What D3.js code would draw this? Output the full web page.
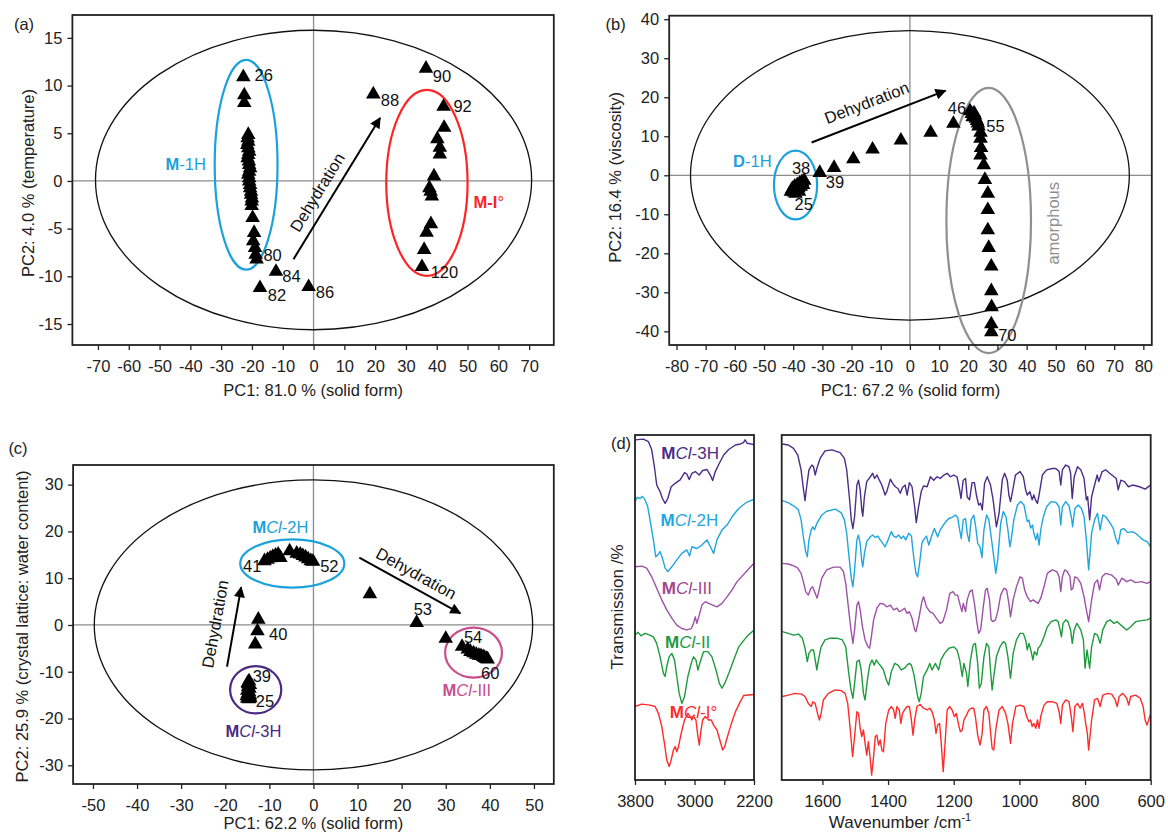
<!DOCTYPE html>
<html>
<head>
<meta charset="utf-8">
<script src="https://cdn.jsdelivr.net/npm/d3@7"></script>
<style>
  body { margin: 0; background: #fff; }
  svg { display: block; }
</style>
</head>
<body>
<svg width="1168" height="833"></svg>
<script>
const FONT = "'Liberation Sans', Arial, sans-serif";

// ---------- panel (a) : M ----------
const aTicksX = [-70, -60, -50, -40, -30, -20, -10, 0, 10, 20, 30, 40, 50, 60, 70];
const aTicksY = [-15, -10, -5, 0, 5, 10, 15];
const aScores = [
  [-22.8, 11.0], [-22.5, 9.1], [-22.5, 8.3],
  [-21.2, 4.95], [-21.4, 4.6], [-21.2, 4.25], [-21.5, 3.9], [-21.2, 3.55], [-20.9, 3.2],
  [-21.2, 2.86], [-21.4, 2.5], [-21.0, 2.16], [-20.9, 1.8], [-20.6, 1.47], [-20.9, 1.1],
  [-21.2, 0.77], [-20.9, 0.4], [-20.9, 0.07], [-20.6, -0.3], [-20.6, -0.63], [-20.3, -1.0],
  [-20.3, -1.32], [-20.0, -1.7], [-20.1, -2.02], [-20.1, -2.5], [-19.8, -3.76], [-19.3, -5.33],
  [-19.6, -6.2], [-19.0, -6.9], [-18.8, -7.6], [-18.5, -8.1],
  [-17.4, -11.1], [-12.2, -9.4], [-1.6, -11.0], [19.4, 9.2],
  [36.5, 11.9], [42.2, 7.9], [42.4, 5.7], [40.2, 4.5], [41.0, 3.6], [41.0, 2.9], [39.1, 0.6],
  [37.6, -0.63], [38.0, -1.0], [38.4, -1.5], [38.1, -4.4], [36.7, -5.3], [35.9, -7.1], [35.2, -8.9]
];
const aNumbers = [
  ["26", -16.2, 11.1], ["80", -13.3, -7.8], ["84", -7.2, -10.0], ["82", -11.9, -12.0],
  ["86", 3.7, -11.7], ["88", 24.8, 8.5], ["90", 41.7, 11.0], ["92", 48.4, 7.8], ["120", 42.5, -9.6]
];

// ---------- panel (b) : D ----------
const bTicksX = [-80, -70, -60, -50, -40, -30, -20, -10, 0, 10, 20, 30, 40, 50, 60, 70, 80];
const bTicksY = [-40, -30, -20, -10, 0, 10, 20, 30, 40];
const bScores = [
  [-40.8, -3.9], [-40.3, -3.2], [-39.8, -4.1], [-39.5, -2.6], [-39.0, -3.5], [-38.6, -2.2],
  [-38.2, -3.0], [-37.8, -1.8], [-37.4, -2.6], [-37.0, -1.4], [-36.6, -2.2], [-36.2, -1.1],
  [-39.2, -4.4], [-38.0, -3.9],
  [-30.9, 0.9], [-26.0, 2.2], [-19.4, 4.4], [-12.8, 6.9], [-3.1, 9.2], [7.1, 11.2], [14.9, 13.5],
  [20.6, 16.7], [21.2, 16.0], [22.0, 16.2], [21.5, 15.2], [22.3, 15.6], [22.6, 14.8],
  [23.0, 14.2], [23.3, 13.6], [23.5, 12.8],
  [24.2, 11.2], [24.2, 9.7], [24.4, 7.3], [24.2, 5.4], [25.3, 2.9], [25.7, -0.9], [26.7, -4.4],
  [26.7, -8.6], [26.7, -13.8], [27.0, -18.3], [27.9, -23.1], [27.9, -29.4], [28.0, -33.5],
  [27.9, -37.9], [27.9, -39.9]
];
const bNumbers = [
  ["46", 16.1, 17.2], ["55", 29.3, 12.6], ["70", 33.4, -41.1],
  ["38", -37.3, 1.8], ["25", -36.4, -7.3], ["39", -25.7, -1.8]
];

// ---------- panel (c) : MCl ----------
const cTicksX = [-50, -40, -30, -20, -10, 0, 10, 20, 30, 40, 50];
const cTicksY = [-30, -20, -10, 0, 10, 20, 30];
const cScores = [
  [-14.6, -11.8], [-14.9, -12.2], [-14.4, -12.6], [-14.8, -13.0], [-14.5, -13.4], [-15.0, -13.8],
  [-14.6, -14.1], [-14.9, -14.5], [-14.4, -14.8], [-15.1, -15.0], [-14.7, -15.3], [-14.3, -15.4],
  [-15.0, -15.5], [-14.6, -15.6], [-14.8, -12.4],
  [-12.5, 1.4], [-12.7, -1.1], [-13.2, -3.9],
  [-11.1, 13.9], [-10.4, 14.2], [-9.8, 14.5], [-9.2, 14.8], [-8.6, 15.1], [-8.0, 15.3],
  [-7.5, 14.6], [-5.4, 16.0], [-3.8, 15.5], [-3.0, 15.3], [-2.4, 15.0], [-1.8, 14.7],
  [-1.2, 14.3], [-0.6, 13.9], [-0.1, 13.8],
  [12.8, 6.8], [23.4, 0.7], [30.0, -2.7],
  [33.7, -4.4], [35.0, -5.0], [35.6, -5.5], [36.3, -5.8], [36.9, -6.1], [37.5, -6.3],
  [38.0, -6.4], [38.5, -6.6], [38.8, -6.8], [39.2, -7.0], [39.5, -7.1]
];
const cNumbers = [
  ["41", -13.9, 12.5], ["52", 3.6, 12.5], ["40", -8.0, -2.0], ["53", 24.8, 3.4],
  ["54", 36.2, -2.7], ["60", 40.1, -10.3], ["39", -11.7, -11.0], ["25", -11.0, -16.4]
];

// ---------- panel (d) : IR spectra, [wavenumber, offset transmission] ----------
const hiTicks = [3800, 3400, 3000, 2600, 2200];
const hiLabels = [3800, 3000, 2200];
const loTicks = [1600, 1400, 1200, 1000, 800, 600];

const s3H_hi = [[3800,98.6],[3688,98.8],[3620,98.1],[3575,95.7],[3539,90.8],[3508,85.5],[3463,83.6],[3431,81.6],[3395,80.2],[3359,81.6],[3314,85.0],[3260,86.0],[3193,87.0],[3134,89.1],[3103,88.7],[3071,87.1],[3035,88.9],[2990,89.4],[2936,88.4],[2891,89.7],[2833,90.0],[2788,88.4],[2756,86.8],[2720,89.4],[2666,91.8],[2608,94.2],[2540,95.8],[2450,97.1],[2383,97.4],[2342,97.8],[2320,98.6],[2290,97.6],[2200,97.2]];
const s2H_hi = [[3800,80.7],[3770,81.9],[3733,81.6],[3700,82.2],[3665,81.2],[3629,79.2],[3598,75.4],[3553,69.6],[3521,64.7],[3494,65.2],[3463,66.2],[3431,64.3],[3395,61.4],[3359,60.4],[3305,61.8],[3238,63.8],[3170,65.7],[3103,66.7],[3067,64.9],[3035,67.6],[2968,67.1],[2900,68.1],[2833,69.6],[2774,67.1],[2743,65.7],[2698,69.6],[2630,72.5],[2563,73.9],[2495,76.3],[2405,78.7],[2300,80.5],[2200,81.4]];
const sIII_hi = [[3800,61.8],[3710,62.0],[3643,61.4],[3575,58.9],[3508,55.6],[3440,52.2],[3373,49.3],[3305,46.9],[3238,44.9],[3170,43.9],[3103,43.5],[3044,43.9],[3013,45.4],[2990,47.3],[2968,45.4],[2936,47.8],[2900,50.7],[2855,51.7],[2810,51.2],[2756,50.7],[2698,50.2],[2630,51.2],[2563,53.1],[2495,55.1],[2428,57.5],[2300,60.5],[2200,62.8]];
const sII_hi = [[3800,42.0],[3760,42.8],[3720,41.8],[3665,42.5],[3600,42.0],[3553,41.5],[3508,39.6],[3463,35.7],[3418,30.9],[3395,30.0],[3373,32.9],[3341,35.7],[3305,36.7],[3269,34.8],[3238,30.0],[3206,25.1],[3170,22.2],[3134,24.2],[3089,30.0],[3044,33.8],[3013,35.7],[2981,34.8],[2954,31.9],[2923,34.3],[2878,37.2],[2819,37.2],[2765,35.7],[2711,31.9],[2666,28.0],[2630,26.6],[2594,28.0],[2540,30.9],[2473,34.8],[2405,38.6],[2300,41.5],[2200,43.5]];
const sI_hi = [[3800,21.3],[3710,22.0],[3598,21.7],[3530,21.3],[3485,19.3],[3440,15.5],[3404,10.6],[3373,5.8],[3341,3.9],[3314,5.8],[3283,8.7],[3260,9.7],[3238,8.2],[3215,9.7],[3179,13.5],[3134,17.4],[3089,19.3],[3058,18.4],[3035,17.4],[3013,18.4],[2981,17.4],[2954,12.6],[2936,10.1],[2918,13.5],[2891,17.4],[2855,18.4],[2810,17.4],[2774,17.4],[2743,15.9],[2698,14.5],[2653,11.1],[2621,8.7],[2594,9.7],[2563,12.1],[2504,16.4],[2450,19.8],[2396,22.2],[2340,24.5],[2200,24.8]];

const s3H_lo = [[1722,97.4],[1704,97.1],[1688,96.1],[1675,94.2],[1665,89.9],[1658,84.5],[1653,81.0],[1648,85.0],[1641,89.9],[1632,91.3],[1627,90.8],[1622,88.4],[1617,90.3],[1607,93.2],[1592,95.4],[1571,95.7],[1546,94.9],[1533,93.2],[1526,89.9],[1518,82.1],[1512,75.4],[1507,72.9],[1502,76.3],[1495,85.5],[1490,86.9],[1485,84.1],[1480,78.3],[1477,76.5],[1472,82.1],[1465,86.5],[1454,87.9],[1447,88.9],[1441,87.4],[1434,88.4],[1427,87.0],[1419,85.5],[1409,82.6],[1404,83.6],[1393,87.2],[1386,86.0],[1378,85.0],[1370,84.5],[1363,83.1],[1356,84.8],[1348,85.5],[1342,82.6],[1335,86.2],[1327,85.0],[1319,79.2],[1314,74.6],[1307,79.2],[1299,83.6],[1292,85.2],[1281,85.0],[1271,87.9],[1261,86.9],[1251,87.9],[1241,87.4],[1230,88.4],[1220,88.9],[1210,87.9],[1200,88.4],[1190,87.9],[1182,84.1],[1178,81.6],[1171,86.9],[1164,87.4],[1159,82.1],[1152,81.2],[1144,86.2],[1137,86.2],[1131,82.6],[1124,79.7],[1118,80.2],[1113,78.3],[1106,86.0],[1098,87.9],[1088,85.5],[1080,81.2],[1070,73.4],[1062,77.3],[1052,87.0],[1045,88.9],[1037,86.9],[1032,82.6],[1027,80.7],[1022,83.1],[1012,88.4],[998,89.4],[988,87.9],[981,84.1],[976,82.6],[968,83.6],[961,81.2],[956,82.6],[951,81.2],[945,80.2],[940,82.6],[930,88.4],[917,89.9],[900,90.3],[889,90.3],[879,89.4],[874,85.5],[869,89.9],[859,91.3],[849,90.8],[844,88.9],[839,81.6],[833,87.9],[823,90.8],[813,89.9],[803,87.4],[796,81.2],[792,82.1],[786,75.4],[780,82.1],[771,85.5],[763,88.4],[758,86.5],[748,89.4],[737,89.9],[725,88.9],[705,87.4],[699,84.1],[691,86.9],[680,86.5],[668,85.0],[655,85.5],[634,85.0],[617,84.3],[600,85.5]];
const s2H_lo = [[1722,81.0],[1704,80.4],[1692,79.7],[1681,79.0],[1673,78.3],[1665,75.4],[1658,70.5],[1651,66.2],[1646,64.7],[1641,69.6],[1634,72.5],[1629,73.4],[1624,72.5],[1617,74.4],[1602,76.8],[1587,77.9],[1561,78.5],[1543,77.5],[1533,75.4],[1526,71.5],[1518,63.8],[1512,58.5],[1507,56.0],[1502,60.9],[1495,69.6],[1490,71.0],[1485,68.6],[1480,63.3],[1477,61.8],[1472,65.7],[1465,69.1],[1454,70.5],[1447,71.0],[1439,70.3],[1431,70.7],[1424,69.6],[1416,68.6],[1409,67.6],[1400,69.6],[1390,72.0],[1383,70.7],[1376,70.3],[1368,71.0],[1360,70.0],[1353,70.7],[1346,69.6],[1337,71.5],[1329,70.7],[1322,64.7],[1315,59.9],[1310,58.9],[1304,62.8],[1297,68.6],[1292,69.6],[1283,70.7],[1276,68.1],[1268,70.5],[1259,72.9],[1249,70.5],[1241,72.5],[1228,74.4],[1215,75.8],[1205,76.1],[1195,76.8],[1188,76.1],[1182,72.5],[1177,70.0],[1171,75.4],[1164,75.8],[1159,71.5],[1153,69.1],[1147,75.4],[1139,76.8],[1133,73.4],[1127,68.6],[1120,67.6],[1114,64.5],[1108,72.5],[1100,76.8],[1093,75.4],[1086,70.5],[1078,64.7],[1072,59.9],[1066,63.8],[1057,74.4],[1049,77.8],[1041,76.3],[1035,72.5],[1029,67.6],[1025,69.6],[1017,75.4],[1006,79.7],[996,80.7],[986,79.7],[980,76.8],[976,74.9],[971,75.4],[966,73.0],[960,73.9],[956,71.5],[950,69.6],[945,71.5],[940,68.1],[935,72.5],[927,76.3],[917,79.2],[903,80.7],[889,80.5],[879,79.2],[874,73.9],[869,79.2],[859,80.7],[849,79.5],[841,75.8],[838,73.4],[831,78.7],[821,79.7],[811,78.7],[803,76.3],[796,69.6],[789,60.9],[780,71.5],[771,75.4],[762,77.3],[754,72.5],[746,76.8],[737,76.3],[723,74.4],[714,72.9],[705,69.6],[699,68.4],[691,72.5],[682,72.9],[670,71.7],[657,72.0],[646,71.5],[634,70.5],[623,69.6],[611,69.1],[600,67.6]];
const sIII_lo = [[1722,62.8],[1704,62.6],[1685,62.0],[1675,61.4],[1665,59.9],[1658,57.5],[1651,54.6],[1643,53.6],[1635,55.6],[1630,56.0],[1624,54.6],[1616,52.7],[1610,55.1],[1602,58.5],[1587,60.9],[1566,61.7],[1546,61.7],[1536,60.4],[1529,57.0],[1521,50.2],[1513,43.5],[1507,39.6],[1502,43.5],[1495,50.7],[1490,51.7],[1485,49.3],[1478,44.4],[1470,40.6],[1461,38.6],[1456,38.2],[1451,41.5],[1444,46.4],[1434,49.8],[1424,51.2],[1414,51.0],[1404,50.2],[1393,50.7],[1383,49.3],[1373,49.8],[1366,48.8],[1358,49.1],[1350,49.8],[1342,48.3],[1335,48.8],[1327,46.9],[1319,43.5],[1315,43.0],[1307,46.4],[1297,51.7],[1292,53.1],[1283,50.2],[1273,48.8],[1263,48.3],[1253,46.9],[1241,45.4],[1233,45.9],[1222,49.3],[1212,54.1],[1202,54.6],[1195,53.6],[1188,53.6],[1182,51.2],[1175,48.8],[1171,51.2],[1164,48.8],[1159,52.2],[1151,54.6],[1144,55.1],[1137,51.2],[1129,45.4],[1124,42.5],[1118,43.5],[1110,50.2],[1103,55.1],[1098,55.6],[1091,52.2],[1086,46.4],[1080,45.9],[1073,46.4],[1066,48.8],[1057,53.6],[1047,55.6],[1039,55.1],[1032,51.2],[1027,47.3],[1019,52.2],[1009,56.0],[998,58.9],[991,58.5],[984,55.1],[976,53.1],[966,51.7],[958,52.2],[951,51.7],[943,51.2],[935,52.7],[925,56.0],[915,59.9],[900,60.9],[886,60.4],[879,58.9],[874,54.6],[869,58.9],[862,60.9],[854,60.4],[846,58.9],[842,55.1],[837,55.6],[831,58.9],[823,58.5],[813,57.0],[803,53.1],[796,49.3],[789,45.9],[780,52.2],[771,57.0],[762,58.0],[756,55.1],[748,58.9],[737,59.9],[719,59.4],[705,58.2],[699,56.5],[688,58.5],[673,57.5],[661,58.0],[646,57.2],[628,57.5],[611,57.0],[600,57.5]];
const sII_lo = [[1722,43.0],[1704,42.5],[1688,42.0],[1673,42.3],[1661,41.1],[1653,38.2],[1646,34.3],[1641,36.7],[1634,37.7],[1627,37.7],[1622,34.8],[1617,31.9],[1612,34.8],[1604,38.6],[1592,40.6],[1576,41.1],[1556,41.1],[1539,40.6],[1529,38.6],[1521,31.9],[1513,26.1],[1507,23.7],[1502,28.0],[1495,34.3],[1488,34.8],[1482,31.9],[1475,25.1],[1470,23.2],[1463,29.0],[1456,33.3],[1449,34.8],[1442,33.3],[1436,34.8],[1429,33.8],[1421,32.9],[1414,31.9],[1405,29.0],[1398,27.5],[1390,31.4],[1380,33.8],[1370,33.3],[1360,31.9],[1350,32.4],[1342,33.3],[1335,33.8],[1329,33.3],[1322,30.9],[1315,27.1],[1310,24.2],[1305,22.7],[1299,25.1],[1292,30.0],[1281,31.9],[1273,33.8],[1266,31.9],[1256,33.8],[1246,31.9],[1239,34.8],[1228,36.7],[1215,38.2],[1200,38.6],[1190,37.7],[1182,34.8],[1174,30.0],[1169,33.8],[1161,30.9],[1157,27.1],[1149,34.8],[1141,39.1],[1134,39.6],[1127,33.8],[1122,26.6],[1116,28.0],[1108,35.7],[1100,39.6],[1093,38.6],[1088,31.9],[1083,26.1],[1078,30.0],[1070,35.7],[1059,38.6],[1049,40.1],[1042,39.6],[1035,35.7],[1027,29.5],[1019,36.7],[1009,40.6],[998,42.5],[988,42.5],[981,40.6],[976,37.7],[971,39.6],[964,37.2],[959,34.8],[954,37.2],[947,36.2],[943,38.2],[935,39.1],[925,41.5],[915,44.4],[903,45.9],[889,46.4],[882,45.9],[876,43.5],[872,41.5],[867,45.4],[859,46.4],[852,45.9],[844,43.5],[839,39.6],[833,43.5],[825,45.4],[813,43.5],[805,40.6],[800,32.4],[794,37.7],[786,32.4],[780,38.6],[771,42.5],[762,42.0],[754,39.6],[746,43.5],[734,45.9],[723,46.4],[712,45.4],[702,45.9],[691,44.9],[673,43.5],[661,44.4],[646,45.9],[628,46.2],[611,46.4],[600,46.9]];
const sI_lo = [[1722,24.2],[1704,24.6],[1683,25.1],[1663,24.9],[1653,24.2],[1643,22.2],[1634,21.3],[1629,22.7],[1622,22.2],[1615,19.3],[1609,17.4],[1604,19.3],[1597,23.2],[1582,25.1],[1561,26.1],[1543,25.9],[1531,25.1],[1523,22.2],[1515,14.5],[1508,6.8],[1502,12.6],[1495,19.8],[1490,19.3],[1485,15.0],[1480,12.6],[1475,14.5],[1470,10.6],[1465,7.2],[1460,11.1],[1454,5.8],[1450,1.4],[1444,6.8],[1439,12.6],[1434,13.0],[1429,10.1],[1424,11.6],[1419,8.7],[1414,8.2],[1407,16.4],[1398,20.3],[1390,21.3],[1383,20.3],[1378,17.9],[1373,21.3],[1366,20.3],[1361,16.4],[1356,19.3],[1350,20.3],[1342,21.3],[1335,21.3],[1329,17.4],[1324,13.0],[1319,17.4],[1312,21.3],[1302,21.9],[1292,20.8],[1281,20.3],[1273,20.8],[1266,19.8],[1259,17.4],[1254,13.5],[1249,15.9],[1243,16.4],[1238,10.6],[1232,2.4],[1227,9.7],[1220,20.3],[1212,21.3],[1205,20.3],[1198,18.4],[1192,19.3],[1185,15.9],[1180,14.0],[1174,14.5],[1169,17.4],[1161,18.8],[1154,20.3],[1147,20.8],[1139,20.8],[1134,18.4],[1127,13.0],[1120,10.1],[1114,13.0],[1108,20.3],[1100,21.3],[1093,19.3],[1088,14.0],[1083,9.2],[1078,8.7],[1072,14.5],[1062,20.3],[1052,21.3],[1042,19.3],[1035,16.4],[1027,10.6],[1021,16.4],[1011,21.3],[998,21.7],[986,21.3],[978,18.4],[971,16.9],[966,17.4],[961,15.5],[956,16.4],[950,15.0],[945,17.4],[940,15.0],[935,18.4],[925,21.7],[915,22.7],[900,22.7],[886,22.2],[879,19.8],[874,16.4],[869,21.7],[859,23.2],[849,22.7],[842,18.4],[837,14.0],[831,21.3],[823,22.2],[815,20.8],[808,22.2],[803,19.8],[798,16.4],[793,13.5],[789,8.7],[780,17.4],[771,23.2],[762,23.7],[754,21.3],[746,24.6],[731,25.1],[719,24.9],[708,23.2],[702,21.3],[696,24.2],[685,25.1],[673,23.7],[667,21.7],[661,24.2],[646,24.6],[632,23.7],[623,21.3],[617,17.4],[611,15.9],[605,17.8],[600,19.3]];

// ---------------------------------------------------------------
const svg = d3.select("svg").attr("font-family", FONT);

svg.append("defs").append("marker")
  .attr("id", "head")
  .attr("viewBox", "0 0 10 10")
  .attr("refX", 9).attr("refY", 5)
  .attr("markerUnits", "userSpaceOnUse")
  .attr("markerWidth", 13).attr("markerHeight", 11)
  .attr("orient", "auto")
  .append("path").attr("d", "M0,0L10,5L0,10z").attr("fill", "#000");

// text made of runs: [text, "b" | "i" | ""]
function runs(sel, parts) {
  parts.forEach(([t, s]) => {
    sel.append("tspan").text(t)
      .attr("font-weight", s === "b" ? "bold" : null)
      .attr("font-style", s === "i" ? "italic" : null);
  });
  return sel;
}

function pcaPanel(o) {
  const g = svg.append("g");
  const x = d3.scaleLinear().domain(o.xDomain).range([o.left, o.right]);
  const y = d3.scaleLinear().domain(o.yDomain).range([o.bottom, o.top]);

  // zero lines
  g.append("line").attr("x1", x(0)).attr("x2", x(0)).attr("y1", o.top).attr("y2", o.bottom)
    .attr("stroke", "#8c8c8c").attr("stroke-width", 1.3);
  g.append("line").attr("x1", o.left).attr("x2", o.right).attr("y1", y(0)).attr("y2", y(0))
    .attr("stroke", "#8c8c8c").attr("stroke-width", 1.3);

  // ellipses: Hotelling T2 + group rings
  const ell = (e, color, w) => g.append("ellipse")
    .attr("cx", x(e[0])).attr("cy", y(e[1]))
    .attr("rx", x(e[0] + e[2]) - x(e[0])).attr("ry", y(e[1]) - y(e[1] + e[3]))
    .attr("fill", "none").attr("stroke", color).attr("stroke-width", w);
  ell(o.ellipse, "#111", 1.3);
  o.rings.forEach(r => ell(r.e, r.color, 2.2));

  // axes
  const ax = g.append("g").attr("transform", `translate(0,${o.bottom})`)
    .call(d3.axisBottom(x).tickValues(o.xTicks).tickFormat(d => d).tickSize(5).tickPadding(10));
  const ay = g.append("g").attr("transform", `translate(${o.left},0)`)
    .call(d3.axisLeft(y).tickValues(o.yTicks).tickFormat(d => d).tickSize(5).tickPadding(5));
  [ax, ay].forEach(a => {
    a.attr("font-size", 16.5).attr("font-family", FONT);
    a.select(".domain").remove();
    a.selectAll("line").attr("stroke", "#222").attr("stroke-width", 1.3);
    a.selectAll("text").attr("fill", "#222");
  });

  g.append("rect").attr("x", o.left).attr("y", o.top)
    .attr("width", o.right - o.left).attr("height", o.bottom - o.top)
    .attr("fill", "none").attr("stroke", "#222").attr("stroke-width", 1.8);

  // arrows
  o.arrows.forEach(a => {
    g.append("line").attr("x1", x(a.from[0])).attr("y1", y(a.from[1]))
      .attr("x2", x(a.to[0])).attr("y2", y(a.to[1]))
      .attr("stroke", "#000").attr("stroke-width", 2).attr("marker-end", "url(#head)");
    const ang = Math.atan2(y(a.to[1]) - y(a.from[1]), x(a.to[0]) - x(a.from[0])) * 180 / Math.PI;
    g.append("text").attr("transform", `translate(${x(a.text[0])},${y(a.text[1])}) rotate(${ang})`)
      .attr("text-anchor", "middle").attr("dy", "0.35em").attr("font-size", 16.5).attr("fill", "#111")
      .text("Dehydration");
  });

  // scores
  g.selectAll("path.pt").data(o.points).join("path").attr("class", "pt")
    .attr("d", d3.symbol(d3.symbolTriangle, 92))
    .attr("transform", d => `translate(${x(d[0])},${y(d[1]) + 1})`)
    .attr("fill", "#000");

  g.selectAll("text.num").data(o.numbers).join("text").attr("class", "num")
    .attr("x", d => x(d[1])).attr("y", d => y(d[2])).attr("dy", "0.35em")
    .attr("text-anchor", "middle").attr("font-size", 16.5).attr("fill", "#111")
    .text(d => d[0]);

  o.groups.forEach(gr => {
    const t = g.append("text").attr("x", x(gr.at[0])).attr("y", y(gr.at[1])).attr("dy", "0.35em")
      .attr("text-anchor", "middle").attr("font-size", 16.5).attr("fill", gr.color);
    if (gr.rotate) t.attr("transform", `rotate(${gr.rotate},${x(gr.at[0])},${y(gr.at[1])})`);
    runs(t, gr.parts);
  });

  // titles
  g.append("text").attr("x", (o.left + o.right) / 2).attr("y", o.xTitleY)
    .attr("text-anchor", "middle").attr("font-size", 16.5).attr("fill", "#222").text(o.xTitle);
  g.append("text").attr("transform", `translate(${o.yTitleX},${(o.top + o.bottom) / 2 + o.yTitleShift}) rotate(-90)`)
    .attr("text-anchor", "middle").attr("font-size", 16.5).attr("fill", "#222").text(o.yTitle);
  g.append("text").attr("x", o.tag[1]).attr("y", o.tag[2]).attr("dy", "0.35em")
    .attr("text-anchor", "middle").attr("font-size", 16.5).attr("fill", "#222").text(o.tag[0]);
}

pcaPanel({
  left: 72.4, right: 553.8, top: 15, bottom: 345,
  xDomain: [-78.3, 78.0], yDomain: [-17.2, 17.4],
  xTicks: aTicksX, yTicks: aTicksY,
  ellipse: [0, 0.1, 70.8, 15.7],
  rings: [{ e: [-21.9, 1.7, 10.2, 11.0], color: "#1ba1dc" }, { e: [36.8, -0.2, 13.2, 9.75], color: "#ff2424" }],
  points: aScores, numbers: aNumbers,
  arrows: [{ from: [-6.5, -8.2], to: [21.6, 6.6], text: [1.2, -1.2] }],
  groups: [
    { at: [-41.5, 1.8], color: "#1ba1dc", parts: [["M", "b"], ["-1H", ""]] },
    { at: [56.9, -2.2], color: "#ff2424", parts: [["M-I", "b"], ["°", ""]] }
  ],
  xTitle: "PC1: 81.0 % (solid form)", xTitleY: 396,
  yTitle: "PC2: 4.0 % (temperature)", yTitleX: 34, yTitleShift: 3,
  tag: ["(a)", 24, 24]
});

pcaPanel({
  left: 669.2, right: 1151.8, top: 15.7, bottom: 345,
  xDomain: [-82.5, 82.9], yDomain: [-43.5, 40.9],
  xTicks: bTicksX, yTicks: bTicksY,
  ellipse: [0, 0, 75.2, 37.1],
  rings: [{ e: [-39.2, -2.5, 7.4, 8.8], color: "#1ba1dc" }, { e: [27, -11.6, 14.5, 34], color: "#8f8f8f" }],
  points: bScores, numbers: bNumbers,
  arrows: [{ from: [-33.7, 8.4], to: [12.2, 21.7], text: [-14.8, 18.6] }],
  groups: [
    { at: [-54, 3.5], color: "#1ba1dc", parts: [["D", "b"], ["-1H", ""]] },
    { at: [49.2, -12.3], color: "#8f8f8f", rotate: -90, parts: [["amorphous", ""]] }
  ],
  xTitle: "PC1: 67.2 % (solid form)", xTitleY: 396,
  yTitle: "PC2: 16.4 % (viscosity)", yTitleX: 621, yTitleShift: -3,
  tag: ["(b)", 615.6, 24]
});

pcaPanel({
  left: 73.1, right: 553.8, top: 465, bottom: 784,
  xDomain: [-54.5, 54.5], yDomain: [-34, 34.2],
  xTicks: cTicksX, yTicks: cTicksY,
  ellipse: [0, 0, 49.7, 31],
  rings: [
    { e: [-4.8, 13.15, 11.8, 5.15], color: "#1ba1dc" },
    { e: [-13.1, -13.85, 5.8, 5.05], color: "#4a2a84" },
    { e: [36.3, -5.9, 6.45, 5.35], color: "#c84f8b" }
  ],
  points: cScores, numbers: cNumbers,
  arrows: [
    { from: [-19.6, -8.9], to: [-16.4, 8.05], text: [-22.3, 0.2] },
    { from: [10.4, 14.4], to: [33.3, 2.5], text: [23.3, 11.0] }
  ],
  groups: [
    { at: [-7.5, 20.8], color: "#1ba1dc", parts: [["M", "b"], ["Cl", "i"], ["-2H", ""]] },
    { at: [-13.6, -22.7], color: "#4a2a84", parts: [["M", "b"], ["Cl", "i"], ["-3H", ""]] },
    { at: [34.8, -13.9], color: "#c84f8b", parts: [["M", "b"], ["Cl", "i"], ["-III", ""]] }
  ],
  xTitle: "PC1: 62.2 % (solid form)", xTitleY: 829,
  yTitle: "PC2: 25.9 % (crystal lattice: water content)", yTitleX: 28, yTitleShift: 2,
  tag: ["(c)", 18, 448]
});

// ---------- panel (d) ----------
const dTop = 435, dBottom = 780;
const yT = d3.scaleLinear().domain([0, 100]).range([dBottom, dTop]);
const xHi = d3.scaleLinear().domain([3800, 2200]).range([635, 754]);
const xLo = d3.scaleLinear().domain([1724, 600]).range([781.7, 1150.7]);

const spectra = [
  { hi: s3H_hi, lo: s3H_lo, color: "#4b2c88", label: "-3H", at: [3058, 94.9] },
  { hi: s2H_hi, lo: s2H_lo, color: "#1fa6e0", label: "-2H", at: [3069, 75.4] },
  { hi: sIII_hi, lo: sIII_lo, color: "#9c52a7", labelColor: "#a4468f", label: "-III", at: [3103, 55.6] },
  { hi: sII_hi, lo: sII_lo, color: "#1e9a3e", label: "-II", at: [3092, 40.1] },
  { hi: sI_hi, lo: sI_lo, color: "#ff2b2b", label: "-I°", at: [3013, 19.6] }
];

const dg = svg.append("g");
[["clipHi", xHi], ["clipLo", xLo]].forEach(([id, sc]) => {
  svg.select("defs").append("clipPath").attr("id", id).append("rect")
    .attr("x", sc.range()[0]).attr("y", dTop)
    .attr("width", sc.range()[1] - sc.range()[0]).attr("height", dBottom - dTop);
});

spectra.forEach(s => {
  dg.append("path").datum(s.hi).attr("clip-path", "url(#clipHi)")
    .attr("d", d3.line().x(d => xHi(d[0])).y(d => yT(d[1])))
    .attr("fill", "none").attr("stroke", s.color).attr("stroke-width", 1.4).attr("stroke-linejoin", "round");
  dg.append("path").datum(s.lo).attr("clip-path", "url(#clipLo)")
    .attr("d", d3.line().x(d => xLo(d[0])).y(d => yT(d[1])))
    .attr("fill", "none").attr("stroke", s.color).attr("stroke-width", 1.4).attr("stroke-linejoin", "round");
  const t = dg.append("text").attr("x", xHi(s.at[0])).attr("y", yT(s.at[1])).attr("dy", "0.35em")
    .attr("text-anchor", "middle").attr("font-size", 17).attr("fill", s.labelColor || s.color);
  runs(t, [["M", "b"], ["Cl", "i"], [s.label, ""]]);
});

[[xHi, hiTicks, d => hiLabels.includes(d) ? d : ""], [xLo, loTicks, d => d]].forEach(([sc, ticks, fmt]) => {
  const a = dg.append("g").attr("transform", `translate(0,${dBottom})`)
    .call(d3.axisBottom(sc).tickValues(ticks).tickFormat(fmt).tickSize(5).tickPadding(10));
  a.attr("font-size", 16.5).attr("font-family", FONT);
  a.select(".domain").remove();
  a.selectAll("line").attr("stroke", "#222").attr("stroke-width", 1.3);
  a.selectAll("text").attr("fill", "#222");
  dg.append("rect").attr("x", sc.range()[0]).attr("y", dTop)
    .attr("width", sc.range()[1] - sc.range()[0]).attr("height", dBottom - dTop)
    .attr("fill", "none").attr("stroke", "#222").attr("stroke-width", 1.8);
});

const wt = dg.append("text").attr("x", 900).attr("y", 828).attr("text-anchor", "middle")
  .attr("font-size", 17).attr("fill", "#222");
wt.append("tspan").text("Wavenumber /cm");
wt.append("tspan").text("-1").attr("font-size", 11).attr("dy", -7);

dg.append("text").attr("transform", `translate(623,607) rotate(-90)`)
  .attr("text-anchor", "middle").attr("font-size", 17).attr("fill", "#222").text("Transmission /%");
dg.append("text").attr("x", 621).attr("y", 443).attr("dy", "0.35em")
  .attr("text-anchor", "middle").attr("font-size", 16.5).attr("fill", "#222").text("(d)");
</script>
</body>
</html>
